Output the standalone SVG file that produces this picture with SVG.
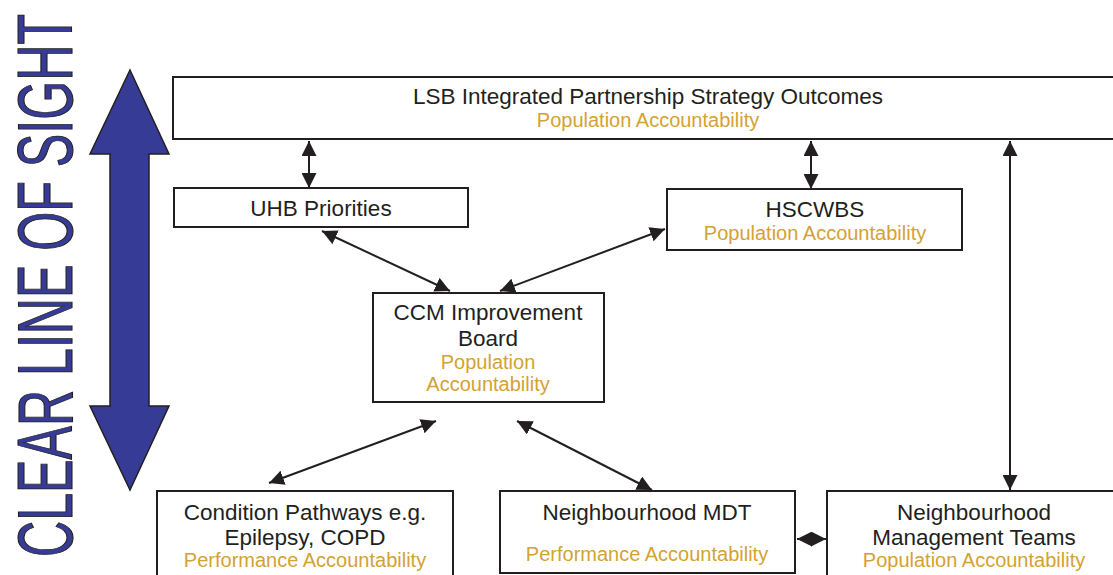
<svg xmlns="http://www.w3.org/2000/svg" width="1113" height="575" viewBox="0 0 1113 575">
  <style>
    .box { fill: #ffffff; stroke: #231f20; stroke-width: 2; }
    .t { font-family: "Liberation Sans", Arial, sans-serif; font-size: 22.5px; fill: #231f20; text-anchor: middle; }
    .acc { font-family: "Liberation Sans", Arial, sans-serif; font-size: 20px; fill: #d4a232; text-anchor: middle; }
    .link { stroke: #231f20; stroke-width: 2; fill: none; marker-start: url(#head); marker-end: url(#head); }
  </style>
  <defs>
    <marker id="head" viewBox="0 0 15 15" refX="15" refY="7.5" markerWidth="15" markerHeight="15" markerUnits="userSpaceOnUse" orient="auto-start-reverse">
      <path d="M0,0 L15,7.5 L0,15 Z" fill="#231f20"/>
    </marker>
  </defs>
  <rect width="1113" height="575" fill="#ffffff"/>

  <!-- vertical banner -->
  <g id="line-of-sight">
    <path d="M130,70 L169,154 L149,154 L149,406 L169,406 L130,490 L90,406 L110,406 L110,154 L90,154 Z" fill="#363c96" stroke="#231f20" stroke-width="1.5" stroke-linejoin="miter"/>
    <text transform="translate(72,557) rotate(-90)" x="0" y="0" textLength="543" lengthAdjust="spacingAndGlyphs" font-family="'Liberation Sans', Arial, sans-serif" font-size="78" fill="#363c96" stroke="#231f20" stroke-width="1.1">CLEAR LINE OF SIGHT</text>
  </g>

  <!-- connectors -->
  <g id="connectors">
    <line class="link" x1="309" y1="141" x2="309" y2="188"/>
    <line class="link" x1="811" y1="141" x2="811" y2="189"/>
    <line class="link" x1="1010" y1="141" x2="1010" y2="490"/>
    <line class="link" x1="322" y1="231" x2="450" y2="291"/>
    <line class="link" x1="665" y1="229" x2="500" y2="291"/>
    <line class="link" x1="436" y1="421" x2="269" y2="483"/>
    <line class="link" x1="517" y1="421" x2="652" y2="490"/>
    <line class="link" x1="797" y1="539" x2="826" y2="539"/>
  </g>

  <g id="lsb">
    <rect class="box" x="173" y="77" width="960" height="62"/>
    <text class="t" x="648" y="104">LSB Integrated Partnership Strategy Outcomes</text>
    <text class="acc" x="648" y="127">Population Accountability</text>
  </g>

  <g id="uhb">
    <rect class="box" x="174" y="188" width="294" height="39"/>
    <text class="t" x="321" y="216">UHB Priorities</text>
  </g>

  <g id="hscwbs">
    <rect class="box" x="667" y="189" width="295" height="61"/>
    <text class="t" x="815" y="217">HSCWBS</text>
    <text class="acc" x="815" y="240">Population Accountability</text>
  </g>

  <g id="ccm">
    <rect class="box" x="373" y="293" width="231" height="109"/>
    <text class="t" x="488" y="320">CCM Improvement</text>
    <text class="t" x="488" y="346">Board</text>
    <text class="acc" x="488" y="369">Population</text>
    <text class="acc" x="488" y="391">Accountability</text>
  </g>

  <g id="condition">
    <rect class="box" x="157" y="491" width="296" height="100"/>
    <text class="t" x="305" y="520">Condition Pathways e.g.</text>
    <text class="t" x="305" y="545">Epilepsy, COPD</text>
    <text class="acc" x="305" y="567">Performance Accountability</text>
  </g>

  <g id="mdt">
    <rect class="box" x="500" y="491" width="295" height="82"/>
    <text class="t" x="647" y="520">Neighbourhood MDT</text>
    <text class="acc" x="647" y="561">Performance Accountability</text>
  </g>

  <g id="nmt">
    <rect class="box" x="827" y="491" width="300" height="100"/>
    <text class="t" x="974" y="520">Neighbourhood</text>
    <text class="t" x="974" y="545">Management Teams</text>
    <text class="acc" x="974" y="567">Population Accountability</text>
  </g>
</svg>
